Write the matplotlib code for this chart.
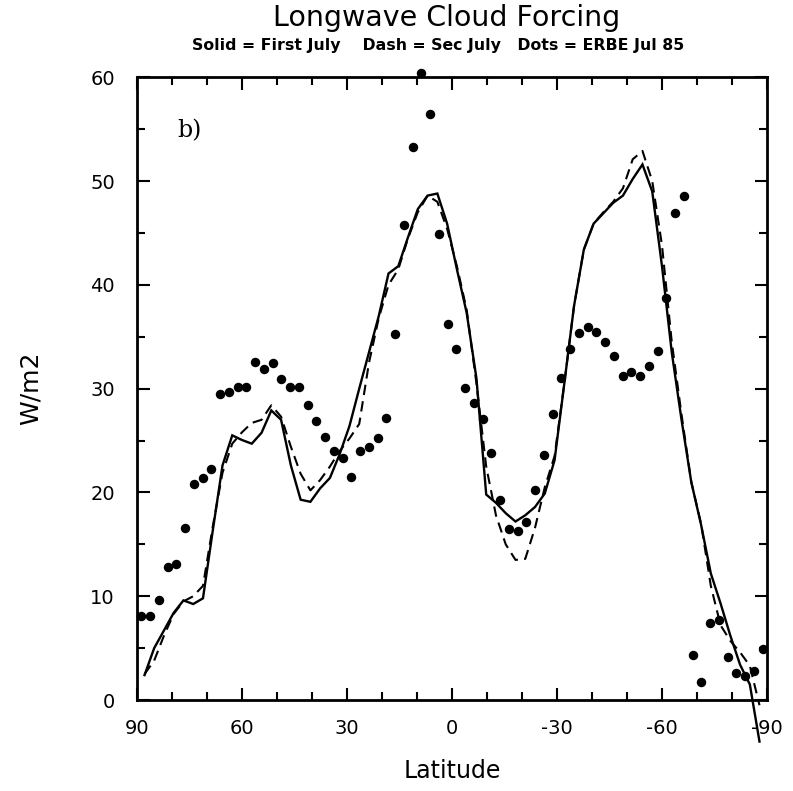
import matplotlib
matplotlib.use("Agg")
import matplotlib.pyplot as plt
from matplotlib.ticker import MultipleLocator
import numpy as np

plt.rcParams['axes.unicode_minus'] = False
plt.rcParams['font.family'] = ['DejaVu Sans']

# Model latitudes (T42 Gaussian grid)
model_lat = [87.86, 85.10, 82.31, 79.53, 76.74, 73.95, 71.16, 68.37, 65.58, 62.79,
             60.00, 57.21, 54.42, 51.63, 48.84, 46.04, 43.25, 40.46, 37.67, 34.88,
             32.09, 29.30, 26.51, 23.72, 20.93, 18.14, 15.35, 12.56, 9.77, 6.98,
             4.19, 1.40, -1.40, -4.19, -6.98, -9.77, -12.56, -15.35, -18.14, -20.93,
             -23.72, -26.51, -29.30, -32.09, -34.88, -37.67, -40.46, -43.25, -46.04, -48.84,
             -51.63, -54.42, -57.21, -60.00, -62.79, -65.58, -68.37, -71.16, -73.95, -76.74,
             -79.53, -82.31, -85.10, -87.86]

first_july = [2.4, 5.0, 6.7, 8.4, 9.6, 9.25, 9.8, 16.3, 22.6, 25.5,
              25.05, 24.7, 25.75, 27.9, 27.0, 22.6, 19.3, 19.1, 20.4, 21.4,
              23.7, 26.4, 30.0, 33.5, 37.0, 41.1, 41.8, 44.6, 47.3, 48.6,
              48.8, 45.9, 41.5, 37.3, 31.0, 19.8, 19.0, 18.0, 17.2, 17.8,
              18.6, 19.9, 23.1, 30.5, 38.0, 43.4, 45.9, 46.9, 47.9, 48.6,
              50.2, 51.6, 49.0, 41.8, 33.5, 27.0, 21.0, 16.9, 12.2, 9.3,
              6.2, 3.4, 1.5, -4.0]

sec_july = [2.5, 3.8, 6.2, 8.3, 9.5, 10.0, 11.0, 16.7, 21.9, 24.7,
            25.8, 26.7, 27.0, 28.4, 27.3, 24.4, 21.8, 20.2, 21.2, 22.5,
            24.0, 25.2, 26.6, 32.5, 36.8, 40.0, 41.5, 44.5, 47.0, 48.6,
            48.0, 45.4, 41.8, 37.6, 30.5, 22.5, 17.8, 15.0, 13.5, 13.6,
            16.6, 20.5, 23.5, 30.5, 38.0, 43.4, 45.9, 47.0, 48.0, 49.3,
            52.1, 52.9, 50.0, 43.8, 34.5, 27.5, 21.0, 17.0, 11.0, 7.2,
            5.7, 4.6, 3.3, -0.5]

# ERBE July 1985 (2.5 degree bands)
erbe_lat = [88.75, 86.25, 83.75, 81.25, 78.75, 76.25, 73.75, 71.25, 68.75, 66.25,
            63.75, 61.25, 58.75, 56.25, 53.75, 51.25, 48.75, 46.25, 43.75, 41.25,
            38.75, 36.25, 33.75, 31.25, 28.75, 26.25, 23.75, 21.25, 18.75, 16.25,
            13.75, 11.25, 8.75, 6.25, 3.75, 1.25, -1.25, -3.75, -6.25, -8.75,
            -11.25, -13.75, -16.25, -18.75, -21.25, -23.75, -26.25, -28.75, -31.25, -33.75,
            -36.25, -38.75, -41.25, -43.75, -46.25, -48.75, -51.25, -53.75, -56.25, -58.75,
            -61.25, -63.75, -66.25, -68.75, -71.25, -73.75, -76.25, -78.75, -81.25, -83.75,
            -86.25, -88.75]
erbe = [8.1, 8.05, 9.6, 12.8, 13.1, 16.6, 20.8, 21.4, 22.3, 29.5,
        29.7, 30.15, 30.2, 32.6, 31.9, 32.5, 30.9, 30.15, 30.15, 28.45,
        26.9, 25.3, 24.0, 23.3, 21.45, 24.0, 24.4, 25.2, 27.2, 35.3,
        45.8, 53.25, 60.4, 56.5, 44.9, 36.2, 33.8, 30.1, 28.6, 27.1,
        23.8, 19.3, 16.45, 16.3, 17.2, 20.2, 23.6, 27.6, 31.05, 33.8,
        35.4, 35.9, 35.5, 34.5, 33.1, 31.2, 31.6, 31.2, 32.2, 33.6,
        38.7, 46.9, 48.55, 4.3, 1.7, 7.45, 7.7, 4.1, 2.6, 2.35,
        2.8, 4.9]

xticks = [90, 60, 30, 0, -30, -60, -90]

fig = plt.figure(figsize=(7.93, 7.91), dpi=100)
ax = fig.add_axes([0.1728, 0.115, 0.7944, 0.7873])

ax.plot(model_lat, first_july, color='black', lw=1.7, solid_joinstyle='miter', clip_on=False, zorder=3)
ax.plot(model_lat, sec_july, color='black', lw=1.5, dashes=(5, 3), clip_on=False, zorder=3)
ax.plot(erbe_lat, erbe, 'o', color='black', ms=5.8, clip_on=False, zorder=4)

ax.set_xlim(90, -90)
ax.set_ylim(0, 60)
ax.set_xticks(xticks)
ax.set_xticklabels([str(t) for t in xticks])
ax.xaxis.set_minor_locator(MultipleLocator(10))
ax.yaxis.set_major_locator(MultipleLocator(10))
ax.yaxis.set_minor_locator(MultipleLocator(5))

ax.tick_params(which='both', direction='in', top=True, right=True, width=1.5, labelsize=14)
ax.tick_params(axis='x', which='major', pad=14)
ax.tick_params(axis='y', which='major', pad=16)
ax.tick_params(which='major', length=9)
ax.tick_params(which='minor', length=6)
for s in ax.spines.values():
    s.set_linewidth(2.0)

ax.set_xlabel('Latitude', fontsize=17, labelpad=15)
ax.set_ylabel('W/m2', fontsize=18, labelpad=34)

ax.text(0.084, 0.915, 'b)', transform=ax.transAxes, fontsize=17, family='serif',
        ha='center', va='center')

fig.text(0.563, 0.977, 'Longwave Cloud Forcing', ha='center', va='center', fontsize=20.5)
fig.text(0.552, 0.943, 'Solid = First July    Dash = Sec July   Dots = ERBE Jul 85',
         ha='center', va='center', fontsize=11.3, fontweight='bold')

fig.savefig('out.png', dpi=100)
